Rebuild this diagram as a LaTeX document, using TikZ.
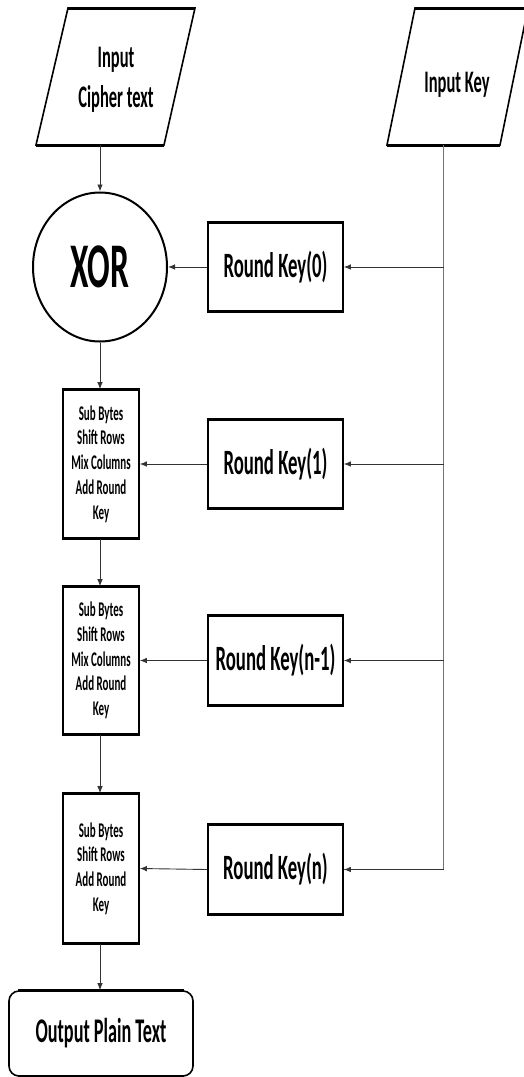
\documentclass[tikz,border=0pt]{standalone}
\usepackage{fontspec}
\usepackage{graphicx}
\setmainfont{Carlito}
\usetikzlibrary{arrows.meta,shapes.geometric}
\newcommand{\st}[1]{\scalebox{1}[1.9]{#1}}
\begin{document}
\begin{tikzpicture}[x=1pt,y=-1pt,
  box/.style={draw, line width=1.6pt, inner sep=0pt},
  paratext/.style={inner sep=0pt, align=center, font=\bfseries\fontsize{16.5}{40}\selectfont},
  paraedge/.style={line width=1.6pt, line join=miter},
  rk/.style={box, minimum width=135pt, minimum height=88pt, font=\bfseries\fontsize{18.75}{20}\selectfont},
  rnd/.style={box, minimum width=76pt, align=center, font=\bfseries\fontsize{11}{24.7}\selectfont},
  conn/.style={draw=black!80, line width=0.9pt, -{Latex[length=7pt,width=5.5pt]}},
  keyline/.style={draw=black!55, line width=1pt},
  hedge/.style={line width=3pt}
]
\useasboundingbox (0,0) rectangle (524,1077);

% inputs (parallelograms)
\coordinate (cTL) at (68,8);  \coordinate (cTR) at (195,8);
\coordinate (cBR) at (164,145); \coordinate (cBL) at (36,145);
\coordinate (cipherb) at (100,145);
\draw[paraedge] (cTL) -- (cTR) -- (cBR) -- (cBL) -- cycle;
\draw[hedge] (cTL) -- (cTR) (cBL) -- (cBR);
\node[paratext] (cipher) at (116,80) {\st{Input}\\\st{Cipher text}};

\coordinate (kTL) at (415,8);  \coordinate (kTR) at (528,8);
\coordinate (kBR) at (500,145); \coordinate (kBL) at (387,145);
\coordinate (keyb) at (443.5,145);
\draw[paraedge] (kTL) -- (kTR) -- (kBR) -- (kBL) -- cycle;
\draw[hedge] (kTL) -- (kTR) (kBL) -- (kBR);
\node[paratext] (key) at (457,85) {\st{Input Key}};

% XOR
\node[box, ellipse, minimum width=134pt, minimum height=149pt, line width=2pt,
  font=\bfseries\fontsize{33.5}{36}\selectfont] (xor) at (100,267) {\st{XOR}};

% round keys
\node[rk] (rk0) at (275.5,267) {\st{Round Key(0)}};
\node[rk] (rk1) at (275.5,464) {\st{Round Key(1)}};
\node[rk] (rk2) at (275.5,660.5) {\st{Round Key(n-1)}};
\node[rk] (rk3) at (275.5,869.5) {\st{Round Key(n)}};

% rounds
\node[rnd, minimum height=148pt] (r1) at (101,464)
  {\st{Sub Bytes}\\\st{Shift Rows}\\\st{Mix Columns}\\\st{Add Round}\\\st{Key}};
\node[rnd, minimum height=147pt] (r2) at (101,660.5)
  {\st{Sub Bytes}\\\st{Shift Rows}\\\st{Mix Columns}\\\st{Add Round}\\\st{Key}};
\node[rnd, minimum height=149pt] (r3) at (101,868.5)
  {\st{Sub Bytes}\\\st{Shift Rows}\\\st{Add Round}\\\st{Key}};

% output
\node[box, rounded corners=10pt, minimum width=184pt, minimum height=85pt,
  font=\bfseries\fontsize{18.2}{20}\selectfont] (out) at (101,1033.5) {\st{Output Plain Text}};

\foreach \n in {rk0,rk1,rk2,rk3,r1,r2,r3}{
  \draw[hedge] (\n.north west) -- (\n.north east);
  \draw[hedge] (\n.south west) -- (\n.south east);
}
\draw[line width=2.6pt] ([xshift=10pt]out.north west) -- ([xshift=-10pt]out.north east);
\draw[line width=2.6pt] ([xshift=10pt]out.south west) -- ([xshift=-10pt]out.south east);

% key distribution line
\draw[keyline] (keyb) |- (rk3.east);
\draw[conn] (keyb |- rk3.east) -- (rk3.east);
\draw[conn] (keyb |- rk0.east) -- (rk0.east);
\draw[conn] (keyb |- rk1.east) -- (rk1.east);
\draw[conn] (keyb |- rk2.east) -- (rk2.east);

% round key to state
\draw[conn] (rk0.west) -- (xor.east);
\draw[conn] (rk1.west) -- (r1.east);
\draw[conn] (rk2.west) -- (r2.east);
\draw[conn] (rk3.west) -- (r3.east);

% main flow
\draw[conn] (cipherb) -- (cipherb |- xor.north);
\draw[conn] (xor.south) -- (xor.south |- r1.north);
\draw[conn] (r1.south -| xor.south) -- (xor.south |- r2.north);
\draw[conn] (r2.south -| xor.south) -- (xor.south |- r3.north);
\draw[conn] (r3.south -| xor.south) -- (xor.south |- out.north);
\end{tikzpicture}
\end{document}
